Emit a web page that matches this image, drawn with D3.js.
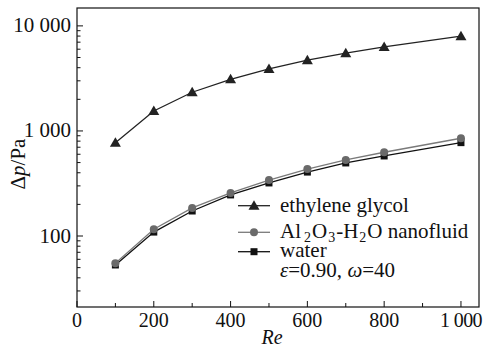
<!DOCTYPE html>
<html><head><meta charset="utf-8">
<script src="https://cdn.jsdelivr.net/npm/d3@7"></script>
</head><body style="margin:0">
<script>
const re = [100,200,300,400,500,600,700,800,1000];
const glycol = [774,1550,2335,3100,3895,4715,5495,6310,7980];
const nano = [55,116,185,257,341,434,530,627,852];
const water = [53,109,173,246,320,406,496,578,774];
const xTicks = [0,200,400,600,800,1000];
const xLabels = ["0","200","400","600","800","1 000"];
const yTicks = [100,1000,10000];
const yLabels = ["100","1 000","10 000"];

const FF = "Liberation Serif";
const svg=d3.select("body").append("svg").attr("width",485).attr("height",347);
const L=77,R=479,TOP=8,B=307;
const x=d3.scaleLinear().domain([0,1047]).range([L,R]);
const y=d3.scaleLog().domain([21.1,14800]).range([B,TOP]);
const ink="#111";

svg.append("rect").attr("x",L).attr("y",TOP).attr("width",R-L).attr("height",B-TOP)
  .attr("fill","none").attr("stroke",ink).attr("stroke-width",1.2);

const xMinor=[100,300,500,700,900];
svg.selectAll(".xt").data(xTicks).join("line").attr("x1",d=>x(d)).attr("x2",d=>x(d))
  .attr("y1",B).attr("y2",B-6).attr("stroke",ink);
svg.selectAll(".xm").data(xMinor).join("line").attr("x1",d=>x(d)).attr("x2",d=>x(d))
  .attr("y1",B).attr("y2",B-4).attr("stroke",ink);
svg.selectAll(".xl").data(xTicks).join("text").attr("x",d=>x(d)).attr("y",327)
  .attr("text-anchor","middle").attr("font-family",FF).attr("font-size",20).attr("fill",ink)
  .attr("letter-spacing",d=>d===1000?-0.6:0).text((d,i)=>xLabels[i]);

const yMinor=[];
[10,100,1000,10000].forEach(b=>{for(let k=2;k<=9;k++){const v=b*k; if(v>21.1&&v<14800) yMinor.push(v);}});
svg.selectAll(".yt").data(yTicks).join("line").attr("x1",L).attr("x2",L+6)
  .attr("y1",d=>y(d)).attr("y2",d=>y(d)).attr("stroke",ink);
svg.selectAll(".ym").data(yMinor).join("line").attr("x1",L).attr("x2",L+3.5)
  .attr("y1",d=>y(d)).attr("y2",d=>y(d)).attr("stroke",ink);
svg.selectAll(".yl").data(yTicks).join("text").attr("x",71).attr("y",d=>y(d)+6.5)
  .attr("text-anchor","end").attr("font-family",FF).attr("font-size",21).attr("fill",ink).text((d,i)=>yLabels[i]);

svg.append("text").attr("x",272).attr("y",344).attr("text-anchor","middle").attr("font-family",FF).attr("font-size",20)
  .attr("font-style","italic").attr("fill",ink).text("Re");
const yt=svg.append("text").attr("transform","translate(25,164) rotate(-90)").attr("text-anchor","middle")
  .attr("font-family",FF).attr("font-size",21).attr("fill",ink);
yt.append("tspan").text("\u0394");
yt.append("tspan").attr("font-style","italic").text("p");
yt.append("tspan").text("/Pa");

const line=d3.line().x(d=>x(d[0])).y(d=>y(d[1]));
const series=[
  {vals:glycol,color:"#222",mk:"tri",mc:"#222"},
  {vals:water,color:"#111",mk:"sq",mc:"#111"},
  {vals:nano,color:"#7a7a7a",mk:"circ",mc:"#6a6a6a"}
];
function marker(g,type,cx,cy,c){
  if(type==="tri") g.append("path").attr("d",`M${cx},${cy-5.5}L${cx+5.5},${cy+4}L${cx-5.5},${cy+4}Z`).attr("fill",c);
  else if(type==="sq") g.append("rect").attr("x",cx-3.5).attr("y",cy-3.5).attr("width",7).attr("height",7).attr("fill",c);
  else g.append("circle").attr("cx",cx).attr("cy",cy).attr("r",4).attr("fill",c);
}
series.forEach(s=>{
  const pts=re.map((r,i)=>[r,s.vals[i]]);
  svg.append("path").attr("d",line(pts)).attr("fill","none").attr("stroke",s.color).attr("stroke-width",1.3);
  const g=svg.append("g");
  pts.forEach(p=>marker(g,s.mk,x(p[0]),y(p[1]),s.mc));
});

const lg=svg.append("g");
const rows=[{mk:"tri",c:"#222",lc:"#222",y:205.7},{mk:"circ",c:"#6a6a6a",lc:"#7a7a7a",y:232.3},{mk:"sq",c:"#111",lc:"#111",y:251.7}];
rows.forEach(r=>{
  lg.append("line").attr("x1",238).attr("x2",270).attr("y1",r.y).attr("y2",r.y).attr("stroke",r.lc).attr("stroke-width",1.3);
  marker(lg,r.mk,254,r.y,r.c);
});
function T2(xx,yy){return lg.append("text").attr("x",xx).attr("y",yy).attr("font-family",FF).attr("font-size",21).attr("fill",ink);}
T2(280,212).text("ethylene glycol");
const t2=T2(280,238);
t2.append("tspan").text("Al");
t2.append("tspan").attr("font-size",14).attr("dx",3).attr("dy",4).text("2");
t2.append("tspan").attr("dx",1).attr("dy",-4).text("O");
t2.append("tspan").attr("font-size",14).attr("dx",1).attr("dy",4).text("3");
t2.append("tspan").attr("dx",1).attr("dy",-4).text("-H");
t2.append("tspan").attr("font-size",14).attr("dx",1).attr("dy",4).text("2");
t2.append("tspan").attr("dx",1).attr("dy",-4).text("O nanofluid");
T2(280,257).text("water");
const t4=T2(280,277);
t4.append("tspan").attr("font-style","italic").text("\u03b5");
t4.append("tspan").text("=0.90, ");
t4.append("tspan").attr("font-style","italic").text("\u03c9");
t4.append("tspan").text("=40");
</script>
</body></html>
